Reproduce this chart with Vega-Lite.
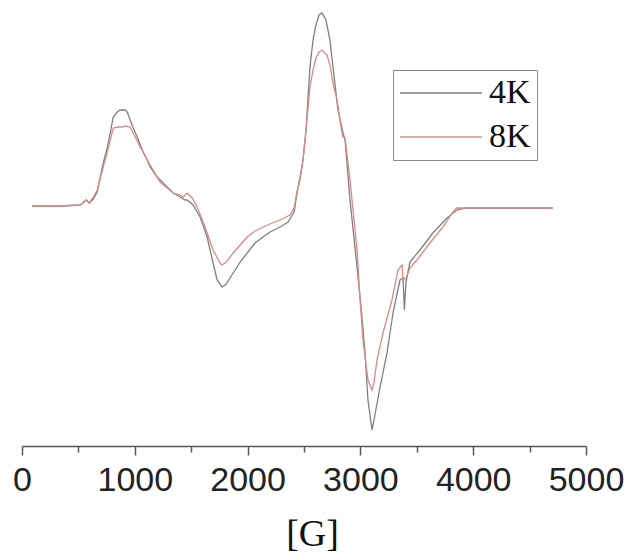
{
  "$schema": "https://vega.github.io/schema/vega-lite/v6.json",
  "autosize": "none",
  "width": 564,
  "height": 446,
  "padding": {"left": 22, "top": 0, "right": 42, "bottom": 108},
  "background": "white",
  "config": {"view": {"stroke": null}},
  "data": {
    "values": [
      {"field": 91, "signal": 0, "temp": "4K"},
      {"field": 339, "signal": 0, "temp": "4K"},
      {"field": 516, "signal": 1, "temp": "4K"},
      {"field": 570, "signal": 6, "temp": "4K"},
      {"field": 596, "signal": 3, "temp": "4K"},
      {"field": 632, "signal": 7, "temp": "4K"},
      {"field": 667, "signal": 14, "temp": "4K"},
      {"field": 720, "signal": 43, "temp": "4K"},
      {"field": 756, "signal": 58, "temp": "4K"},
      {"field": 782, "signal": 73, "temp": "4K"},
      {"field": 809, "signal": 89, "temp": "4K"},
      {"field": 844, "signal": 94, "temp": "4K"},
      {"field": 871, "signal": 96, "temp": "4K"},
      {"field": 888, "signal": 96, "temp": "4K"},
      {"field": 915, "signal": 96, "temp": "4K"},
      {"field": 933, "signal": 94, "temp": "4K"},
      {"field": 959, "signal": 86, "temp": "4K"},
      {"field": 986, "signal": 78, "temp": "4K"},
      {"field": 1021, "signal": 69, "temp": "4K"},
      {"field": 1074, "signal": 54, "temp": "4K"},
      {"field": 1110, "signal": 46, "temp": "4K"},
      {"field": 1136, "signal": 39, "temp": "4K"},
      {"field": 1198, "signal": 29, "temp": "4K"},
      {"field": 1287, "signal": 19, "temp": "4K"},
      {"field": 1340, "signal": 13, "temp": "4K"},
      {"field": 1402, "signal": 9, "temp": "4K"},
      {"field": 1446, "signal": 6, "temp": "4K"},
      {"field": 1464, "signal": 6, "temp": "4K"},
      {"field": 1517, "signal": 1, "temp": "4K"},
      {"field": 1579, "signal": -11, "temp": "4K"},
      {"field": 1641, "signal": -31, "temp": "4K"},
      {"field": 1694, "signal": -57, "temp": "4K"},
      {"field": 1730, "signal": -74, "temp": "4K"},
      {"field": 1774, "signal": -81, "temp": "4K"},
      {"field": 1810, "signal": -78, "temp": "4K"},
      {"field": 1872, "signal": -67, "temp": "4K"},
      {"field": 1934, "signal": -56, "temp": "4K"},
      {"field": 1996, "signal": -47, "temp": "4K"},
      {"field": 2066, "signal": -37, "temp": "4K"},
      {"field": 2137, "signal": -31, "temp": "4K"},
      {"field": 2199, "signal": -26, "temp": "4K"},
      {"field": 2288, "signal": -21, "temp": "4K"},
      {"field": 2359, "signal": -16, "temp": "4K"},
      {"field": 2412, "signal": -6, "temp": "4K"},
      {"field": 2438, "signal": 13, "temp": "4K"},
      {"field": 2465, "signal": 29, "temp": "4K"},
      {"field": 2491, "signal": 46, "temp": "4K"},
      {"field": 2518, "signal": 76, "temp": "4K"},
      {"field": 2553, "signal": 139, "temp": "4K"},
      {"field": 2580, "signal": 166, "temp": "4K"},
      {"field": 2606, "signal": 181, "temp": "4K"},
      {"field": 2633, "signal": 191, "temp": "4K"},
      {"field": 2660, "signal": 193, "temp": "4K"},
      {"field": 2695, "signal": 186, "temp": "4K"},
      {"field": 2730, "signal": 166, "temp": "4K"},
      {"field": 2757, "signal": 139, "temp": "4K"},
      {"field": 2801, "signal": 96, "temp": "4K"},
      {"field": 2846, "signal": 73, "temp": "4K"},
      {"field": 2864, "signal": 66, "temp": "4K"},
      {"field": 2908, "signal": 6, "temp": "4K"},
      {"field": 2970, "signal": -61, "temp": "4K"},
      {"field": 3014, "signal": -111, "temp": "4K"},
      {"field": 3041, "signal": -147, "temp": "4K"},
      {"field": 3067, "signal": -194, "temp": "4K"},
      {"field": 3103, "signal": -224, "temp": "4K"},
      {"field": 3129, "signal": -209, "temp": "4K"},
      {"field": 3174, "signal": -181, "temp": "4K"},
      {"field": 3236, "signal": -147, "temp": "4K"},
      {"field": 3289, "signal": -107, "temp": "4K"},
      {"field": 3351, "signal": -74, "temp": "4K"},
      {"field": 3378, "signal": -72, "temp": "4K"},
      {"field": 3390, "signal": -104, "temp": "4K"},
      {"field": 3404, "signal": -76, "temp": "4K"},
      {"field": 3439, "signal": -56, "temp": "4K"},
      {"field": 3528, "signal": -44, "temp": "4K"},
      {"field": 3643, "signal": -27, "temp": "4K"},
      {"field": 3767, "signal": -12, "temp": "4K"},
      {"field": 3855, "signal": -4, "temp": "4K"},
      {"field": 3926, "signal": -2, "temp": "4K"},
      {"field": 4706, "signal": -2, "temp": "4K"},
      {"field": 91, "signal": 0, "temp": "8K"},
      {"field": 339, "signal": 0, "temp": "8K"},
      {"field": 516, "signal": 1, "temp": "8K"},
      {"field": 570, "signal": 6, "temp": "8K"},
      {"field": 596, "signal": 3, "temp": "8K"},
      {"field": 632, "signal": 9, "temp": "8K"},
      {"field": 667, "signal": 16, "temp": "8K"},
      {"field": 720, "signal": 39, "temp": "8K"},
      {"field": 756, "signal": 54, "temp": "8K"},
      {"field": 782, "signal": 66, "temp": "8K"},
      {"field": 809, "signal": 78, "temp": "8K"},
      {"field": 853, "signal": 79, "temp": "8K"},
      {"field": 888, "signal": 79, "temp": "8K"},
      {"field": 915, "signal": 80, "temp": "8K"},
      {"field": 959, "signal": 79, "temp": "8K"},
      {"field": 986, "signal": 73, "temp": "8K"},
      {"field": 1047, "signal": 59, "temp": "8K"},
      {"field": 1136, "signal": 41, "temp": "8K"},
      {"field": 1225, "signal": 24, "temp": "8K"},
      {"field": 1340, "signal": 13, "temp": "8K"},
      {"field": 1402, "signal": 11, "temp": "8K"},
      {"field": 1429, "signal": 9, "temp": "8K"},
      {"field": 1464, "signal": 13, "temp": "8K"},
      {"field": 1508, "signal": 8, "temp": "8K"},
      {"field": 1553, "signal": -1, "temp": "8K"},
      {"field": 1623, "signal": -21, "temp": "8K"},
      {"field": 1694, "signal": -44, "temp": "8K"},
      {"field": 1756, "signal": -57, "temp": "8K"},
      {"field": 1774, "signal": -59, "temp": "8K"},
      {"field": 1810, "signal": -56, "temp": "8K"},
      {"field": 1872, "signal": -47, "temp": "8K"},
      {"field": 1934, "signal": -39, "temp": "8K"},
      {"field": 1996, "signal": -31, "temp": "8K"},
      {"field": 2066, "signal": -25, "temp": "8K"},
      {"field": 2137, "signal": -21, "temp": "8K"},
      {"field": 2199, "signal": -18, "temp": "8K"},
      {"field": 2288, "signal": -14, "temp": "8K"},
      {"field": 2376, "signal": -9, "temp": "8K"},
      {"field": 2412, "signal": -2, "temp": "8K"},
      {"field": 2438, "signal": 14, "temp": "8K"},
      {"field": 2465, "signal": 26, "temp": "8K"},
      {"field": 2491, "signal": 46, "temp": "8K"},
      {"field": 2518, "signal": 76, "temp": "8K"},
      {"field": 2553, "signal": 119, "temp": "8K"},
      {"field": 2580, "signal": 136, "temp": "8K"},
      {"field": 2606, "signal": 148, "temp": "8K"},
      {"field": 2633, "signal": 154, "temp": "8K"},
      {"field": 2660, "signal": 156, "temp": "8K"},
      {"field": 2704, "signal": 151, "temp": "8K"},
      {"field": 2730, "signal": 141, "temp": "8K"},
      {"field": 2757, "signal": 123, "temp": "8K"},
      {"field": 2793, "signal": 106, "temp": "8K"},
      {"field": 2837, "signal": 73, "temp": "8K"},
      {"field": 2846, "signal": 69, "temp": "8K"},
      {"field": 2864, "signal": 68, "temp": "8K"},
      {"field": 2908, "signal": 26, "temp": "8K"},
      {"field": 2970, "signal": -44, "temp": "8K"},
      {"field": 2997, "signal": -94, "temp": "8K"},
      {"field": 3023, "signal": -134, "temp": "8K"},
      {"field": 3067, "signal": -174, "temp": "8K"},
      {"field": 3103, "signal": -184, "temp": "8K"},
      {"field": 3120, "signal": -177, "temp": "8K"},
      {"field": 3147, "signal": -154, "temp": "8K"},
      {"field": 3200, "signal": -127, "temp": "8K"},
      {"field": 3280, "signal": -94, "temp": "8K"},
      {"field": 3333, "signal": -64, "temp": "8K"},
      {"field": 3369, "signal": -59, "temp": "8K"},
      {"field": 3378, "signal": -74, "temp": "8K"},
      {"field": 3404, "signal": -72, "temp": "8K"},
      {"field": 3439, "signal": -62, "temp": "8K"},
      {"field": 3501, "signal": -54, "temp": "8K"},
      {"field": 3616, "signal": -37, "temp": "8K"},
      {"field": 3731, "signal": -21, "temp": "8K"},
      {"field": 3820, "signal": -6, "temp": "8K"},
      {"field": 3855, "signal": -2, "temp": "8K"},
      {"field": 4706, "signal": -2, "temp": "8K"}
    ]
  },
  "mark": {"type": "line", "strokeWidth": 1.3, "interpolate": "linear"},
  "encoding": {
    "x": {
      "field": "field",
      "type": "quantitative",
      "scale": {"domain": [0, 5000], "nice": false, "zero": false},
      "axis": {
        "title": "[G]",
        "values": [0, 500, 1000, 1500, 2000, 2500, 3000, 3500, 4000, 4500, 5000],
        "format": "d",
        "labelExpr": "datum.value % 1000 === 0 ? datum.label : ''",
        "labelFont": "Liberation Sans",
        "labelFontSize": 34,
        "labelColor": "#222222",
        "labelBaseline": "alphabetic",
        "labelPadding": 35,
        "labelOverlap": false,
        "labelBound": false,
        "labelFlush": false,
        "tickSize": {"condition": {"test": "datum.value % 1000 === 0", "value": 9}, "value": 6},
        "tickColor": "#555555",
        "tickWidth": 1.5,
        "domainColor": "#555555",
        "domainWidth": 1.5,
        "grid": false,
        "titleFont": "Liberation Serif",
        "titleFontSize": 38,
        "titleFontWeight": "normal",
        "titleColor": "#111111",
        "titleBaseline": "alphabetic",
        "titleY": 99,
        "titleX": 290
      }
    },
    "y": {
      "field": "signal",
      "type": "quantitative",
      "scale": {"domain": [-240, 206], "nice": false, "zero": false},
      "axis": null
    },
    "color": {
      "field": "temp",
      "type": "nominal",
      "scale": {"domain": ["4K", "8K"], "range": ["#7f7f7f", "#d98a8a"]},
      "legend": {
        "title": null,
        "orient": "none",
        "legendX": 371,
        "legendY": 70,
        "strokeColor": "#888888",
        "padding": 6,
        "symbolType": "stroke",
        "symbolSize": 6724,
        "symbolStrokeWidth": 1.5,
        "clipHeight": 34,
        "rowPadding": 10,
        "labelOffset": 6,
        "labelFont": "Liberation Serif",
        "labelFontSize": 34,
        "labelColor": "#111111"
      }
    }
  }
}
